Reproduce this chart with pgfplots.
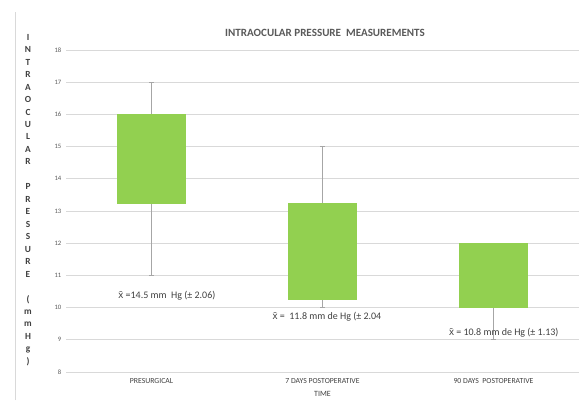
\documentclass[border=0pt]{standalone}
\usepackage{fontspec}
\setmainfont{Carlito}
\newfontfamily\libsans{Liberation Sans}
\usepackage{pgfplots}
\pgfplotsset{compat=1.18}
\definecolor{boxgreen}{HTML}{92D050}
\definecolor{whiskergray}{HTML}{A6A6A6}
\definecolor{gridgray}{HTML}{D9D9D9}
\definecolor{txtgray}{HTML}{595959}
\definecolor{darktxt}{HTML}{404040}
\newcommand{\xbar}{{\libsans x̄}}
\begin{document}
\begin{tikzpicture}
\useasboundingbox (0,0) rectangle (438pt,300pt);
\draw[gridgray, line width=0.6pt] (11.25pt,0pt) -- (11.25pt,291pt);
\node[font=\fontsize{7}{9.35}\selectfont\bfseries, text=darktxt, align=center, inner sep=0pt] at (21pt,150pt)
 {I\\N\\T\\R\\A\\O\\C\\U\\L\\A\\R\\[9.35pt]P\\R\\E\\S\\S\\U\\R\\E\\[9.35pt](\\m\\m\\H\\g\\)};
\node[font=\fontsize{8.3}{10}\selectfont\bfseries, text=txtgray, inner sep=0pt] at (243.75pt,275.25pt) {INTRAOCULAR PRESSURE\ \ MEASUREMENTS};
\begin{axis}[
  at={(49.5pt,21pt)}, anchor=south west, scale only axis,
  width=384.75pt, height=241.5pt,
  xmin=-0.5, xmax=2.5, ymin=8, ymax=18,
  ytick={8,9,...,18}, xtick={0,1,2},
  xticklabels={PRESURGICAL,7 DAYS POSTOPERATIVE,90 DAYS\ \ POSTOPERATIVE},
  ymajorgrids, grid style={draw=gridgray, line width=0.6pt},
  axis line style={draw=none}, major tick length=0pt,
  /pgf/number format/assume math mode=true,
  yticklabel style={font=\fontsize{5}{6}\selectfont, text=txtgray},
  xticklabel style={font=\fontsize{5.8}{7}\selectfont, text=darktxt, yshift=-1pt},
  xlabel={TIME}, xlabel style={font=\fontsize{6}{7}\selectfont, text=darktxt, yshift=1pt},
  clip=false,
]
% whiskers
\addplot[whiskergray, line width=0.6pt] coordinates {(0,11) (0,17)};
\addplot[whiskergray, line width=0.6pt] coordinates {(1,10) (1,15)};
\addplot[whiskergray, line width=0.6pt] coordinates {(2,9) (2,12)};
% whisker caps
\addplot[whiskergray, line width=0.6pt] coordinates {(-0.012,17) (0.012,17)};
\addplot[whiskergray, line width=0.6pt] coordinates {(-0.012,11) (0.012,11)};
\addplot[whiskergray, line width=0.6pt] coordinates {(0.988,15) (1.012,15)};
\addplot[whiskergray, line width=0.6pt] coordinates {(0.988,10) (1.012,10)};
\addplot[whiskergray, line width=0.6pt] coordinates {(1.988,12) (2.012,12)};
\addplot[whiskergray, line width=0.6pt] coordinates {(1.988,9) (2.012,9)};
% boxes
\addplot[fill=boxgreen, draw=boxgreen] coordinates {(-0.2,13.25) (0.2,13.25) (0.2,16) (-0.2,16)} -- cycle;
\addplot[fill=boxgreen, draw=boxgreen] coordinates {(0.8,10.25) (1.2,10.25) (1.2,13.25) (0.8,13.25)} -- cycle;
\addplot[fill=boxgreen, draw=boxgreen] coordinates {(1.8,10) (2.2,10) (2.2,12) (1.8,12)} -- cycle;
\node[font=\fontsize{7.5}{9}\selectfont, text=darktxt, inner sep=0pt] at (axis cs:0.09,10.36) {\xbar{} =14.5 mm\ \ Hg (± 2.06)};
\node[font=\fontsize{7.5}{9}\selectfont, text=darktxt, inner sep=0pt] at (axis cs:1.026,9.71) {\xbar{} =\ \ 11.8 mm de Hg (± 2.04};
\node[font=\fontsize{7.5}{9}\selectfont, text=darktxt, inner sep=0pt] at (axis cs:2.06,9.21) {\xbar{} = 10.8 mm de Hg (± 1.13)};
\end{axis}
\end{tikzpicture}
\end{document}
